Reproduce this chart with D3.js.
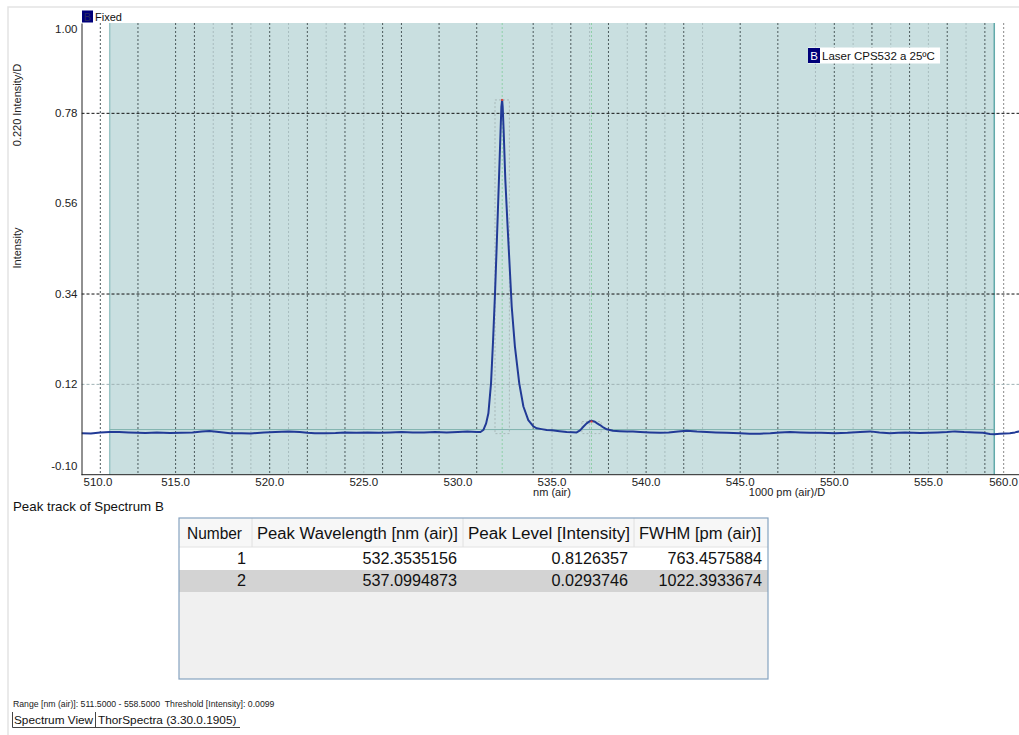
<!DOCTYPE html>
<html>
<head>
<meta charset="utf-8">
<script src="https://cdn.jsdelivr.net/npm/d3@7"></script>
<style>
  body { margin: 0; background: #fff; }
  svg { display: block; font-family: "Liberation Sans", Arial, sans-serif; }
</style>
</head>
<body>
<script>
(function(){
  var width = 1019;
  var height = 735;

  // spectrum B
  var wavelength = [510.0,510.5,511.0,511.5,512.0,512.5,513.0,513.4,514.0,514.7,515.3,515.9,516.4,516.8,517.3,517.9,518.5,519.0,519.7,520.3,521.0,521.6,522.0,522.4,523.0,523.5,524.0,524.6,525.2,525.8,526.4,527.0,527.6,528.2,528.8,529.4,530.0,530.5,531.0,531.2,531.35,531.5,531.62,531.76,531.87,531.97,532.06,532.15,532.24,532.31,532.35,532.38,532.43,532.52,532.65,532.77,532.86,533.03,533.26,533.48,533.74,534.0,534.19,534.45,534.72,535.0,535.4,535.78,536.1,536.31,536.49,536.65,536.84,537.0,537.1,537.28,537.4,537.55,537.7,537.91,538.24,538.6,538.97,539.3,539.68,540.2,540.74,541.2,541.7,542.16,542.7,543.22,543.7,544.28,544.99,545.5,546.05,546.6,547.1,547.65,548.2,548.71,549.3,550.04,550.7,551.37,551.9,552.4,552.96,553.4,553.76,554.2,554.55,555.0,555.5,556.0,556.41,556.9,557.47,557.9,558.27,558.5,558.8,559.33,559.6,559.81,560.0];
  var intensity = [0.001,0.0005,0.003,0.004,0.004,0.003,0.002,0.0015,0.0025,0.0015,0.002,0.003,0.005,0.0064,0.004,0.001,0.0008,0.0005,0.003,0.004,0.005,0.004,0.002,0.0008,0.001,0.0015,0.003,0.002,0.003,0.002,0.003,0.004,0.003,0.003,0.004,0.003,0.004,0.005,0.004,0.004,0.0088,0.025,0.0495,0.1225,0.228,0.339,0.455,0.577,0.699,0.796,0.8126,0.796,0.739,0.618,0.496,0.390,0.309,0.212,0.1225,0.066,0.033,0.018,0.013,0.011,0.009,0.008,0.006,0.004,0.0035,0.003,0.008,0.016,0.025,0.030,0.0315,0.029,0.025,0.021,0.016,0.0105,0.007,0.006,0.005,0.005,0.004,0.003,0.002,0.003,0.005,0.007,0.005,0.004,0.003,0.002,0.0008,0.0,-0.0002,0.001,0.003,0.004,0.003,0.002,0.002,0.001,0.002,0.004,0.0055,0.003,0.001,0.002,0.003,0.002,0.0015,0.002,0.003,0.004,0.0055,0.004,0.003,0.002,-0.001,-0.0012,-0.0002,0.0012,0.003,0.0055,0.006];

  var xTicks = [510, 515, 520, 525, 530, 535, 540, 545, 550, 555, 560];
  var yTicks = [-0.10, 0.12, 0.34, 0.56, 0.78, 1.00];
  var yGridDark = [0.78, 0.34];
  var yGridFaint = [0.12];
  var xGridDark = [511,513,515,516,518,520,522,524,526,527,529,531,534,536,538,540,542,545,547,550,552,554,556,558,559];
  var xGridFaint = [517,519,521,523,525,535,537,539,541,543,549,551,553,555,557];

  var rangeNm = [511.5, 558.5];
  var threshold = 0.0099;

  var peakNumber = [1, 2];
  var peakWavelength = ["532.3535156", "537.0994873"];
  var peakLevel = ["0.8126357", "0.0293746"];
  var peakFwhm = ["763.4575884", "1022.3933674"];
  var tableHeader = ["Number", "Peak Wavelength [nm (air)]", "Peak Level [Intensity]", "FWHM [pm (air)]"];

  var plotLeft = 81.5, plotTop = 23, plotBottom = 474.7;

  var x = d3.scaleLinear().domain([510, 560]).range([plotLeft, 1022.5]);
  var y = d3.scaleLinear().domain([-0.10, 1.00]).range([plotBottom, plotTop]);

  var svg = d3.select("body").append("svg")
    .attr("width", width)
    .attr("height", height);

  // window frame
  svg.append("path")
    .attr("d", "M8,735 V7 H1019")
    .attr("fill", "none")
    .attr("stroke", "#e3e3e3")
    .attr("stroke-width", 1.5);

  svg.append("clipPath").attr("id", "plotclip")
    .append("rect")
    .attr("x", plotLeft).attr("y", plotTop)
    .attr("width", width - plotLeft).attr("height", plotBottom - plotTop);

  var plot = svg.append("g").attr("clip-path", "url(#plotclip)");

  // measurement range shading
  plot.append("rect")
    .attr("x", x(rangeNm[0]))
    .attr("y", plotTop)
    .attr("width", x(rangeNm[1]) - x(rangeNm[0]))
    .attr("height", plotBottom - plotTop)
    .attr("fill", "#c9dfe0");

  plot.append("line")
    .attr("x1", x(rangeNm[0])).attr("x2", x(rangeNm[0]))
    .attr("y1", plotTop).attr("y2", plotBottom)
    .attr("stroke", "#9cc6c6").attr("stroke-width", 1.5);
  plot.append("line")
    .attr("x1", x(rangeNm[1])).attr("x2", x(rangeNm[1]))
    .attr("y1", plotTop).attr("y2", plotBottom)
    .attr("stroke", "#62aaaa").attr("stroke-width", 1.5);

  // vertical grid
  plot.selectAll(".vgf").data(xGridFaint).enter().append("line")
    .attr("x1", d => x(d)).attr("x2", d => x(d))
    .attr("y1", plotTop).attr("y2", plotBottom)
    .attr("stroke", "#a8bcbe").attr("stroke-dasharray", "2,2");
  plot.selectAll(".vgd").data(xGridDark).enter().append("line")
    .attr("x1", d => x(d)).attr("x2", d => x(d))
    .attr("y1", plotTop).attr("y2", plotBottom)
    .attr("stroke", d => d > rangeNm[1] ? "#8a8a8a" : "#4c5a5c")
    .attr("stroke-dasharray", "2,2");

  // horizontal grid
  plot.selectAll(".hgf").data(yGridFaint).enter().append("line")
    .attr("x1", plotLeft).attr("x2", width)
    .attr("y1", d => y(d)).attr("y2", d => y(d))
    .attr("stroke", "#9fb2b4").attr("stroke-dasharray", "3,2");
  plot.selectAll(".hgd").data(yGridDark).enter().append("line")
    .attr("x1", plotLeft).attr("x2", width)
    .attr("y1", d => y(d)).attr("y2", d => y(d))
    .attr("stroke", "#111").attr("stroke-dasharray", "3,2");

  // threshold line
  plot.append("line")
    .attr("x1", x(rangeNm[0])).attr("x2", x(rangeNm[1]))
    .attr("y1", y(threshold)).attr("y2", y(threshold))
    .attr("stroke", "#7fb3ae").attr("stroke-width", 1);

  // peak markers
  peakWavelength.forEach(function(w, i){
    var c = +w, half = +peakFwhm[i] / 2000, lvl = +peakLevel[i];
    plot.append("line")
      .attr("x1", x(c)).attr("x2", x(c))
      .attr("y1", plotTop).attr("y2", plotBottom)
      .attr("stroke", "#8fd0a8").attr("stroke-dasharray", "2,2");
    plot.append("rect")
      .attr("x", x(c - half)).attr("y", y(lvl))
      .attr("width", x(c + half) - x(c - half))
      .attr("height", y(0) - y(lvl))
      .attr("fill", "none")
      .attr("stroke", "#a9b9b9").attr("stroke-dasharray", "2,2");
  });

  // spectrum
  var line = d3.line()
    .x(d => x(d[0]))
    .y(d => y(d[1]));
  plot.append("path")
    .datum(d3.zip(wavelength, intensity))
    .attr("d", line)
    .attr("fill", "none")
    .attr("stroke", "#213a96")
    .attr("stroke-width", 2)
    .attr("stroke-linejoin", "round");

  peakWavelength.forEach(function(w, i){
    plot.append("rect")
      .attr("x", x(+w) - 1).attr("y", y(+peakLevel[i]) - 1)
      .attr("width", 2).attr("height", 2)
      .attr("fill", "#e0433a");
  });

  // axes
  var fmt2 = d => d3.format(".2f")(d).replace("\u2212", "-");
  var yAxis = svg.append("g")
    .attr("transform", "translate(" + plotLeft + ",0)")
    .call(d3.axisLeft(y).tickValues(yTicks).tickSize(0).tickPadding(4).tickFormat(fmt2));
  yAxis.select(".domain").attr("stroke", "#222");
  yAxis.selectAll(".tick").attr("transform", function(d){
    return "translate(0," + Math.min(Math.max(y(d), plotTop + 6), plotBottom - 8) + ")";
  });
  yAxis.selectAll("text").attr("font-size", 11.5).attr("fill", "#222")
    .attr("font-family", "Liberation Sans, Arial, sans-serif");

  var xAxis = svg.append("g")
    .attr("transform", "translate(0," + plotBottom + ")")
    .call(d3.axisBottom(x).tickValues(xTicks).tickSize(0).tickPadding(3).tickFormat(d3.format(".1f")));
  xAxis.select(".domain").attr("stroke", "#222").attr("d", "M" + plotLeft + ",0H" + width);
  xAxis.selectAll("text").attr("font-size", 11.5).attr("fill", "#222")
    .attr("font-family", "Liberation Sans, Arial, sans-serif");
  xAxis.selectAll(".tick").each(function(d){
    var t = d3.select(this).select("text");
    var w = t.node().getComputedTextLength();
    var cx = Math.min(Math.max(x(d), plotLeft + 2 + w / 2), width - 1 - w / 2);
    d3.select(this).attr("transform", "translate(" + cx + ",0)");
  });

  svg.append("text").attr("x", 552).attr("y", 496)
    .attr("text-anchor", "middle").attr("font-size", 11).attr("fill", "#222")
    .text("nm (air)");
  svg.append("text").attr("x", 787).attr("y", 496)
    .attr("text-anchor", "middle").attr("font-size", 11).attr("fill", "#222")
    .text("1000 pm (air)/D");

  svg.append("text")
    .attr("transform", "translate(21,105) rotate(-90)")
    .attr("text-anchor", "middle").attr("font-size", 11).attr("fill", "#222")
    .text("0.220 Intensity/D");
  svg.append("text")
    .attr("transform", "translate(21,248) rotate(-90)")
    .attr("text-anchor", "middle").attr("font-size", 11).attr("fill", "#222")
    .text("Intensity");

  // legends
  svg.append("rect").attr("x", 82).attr("y", 10.5).attr("width", 11).attr("height", 12).attr("fill", "#00007a");
  svg.append("text").attr("x", 87.5).attr("y", 20.5).attr("text-anchor", "middle")
    .attr("font-size", 11).attr("fill", "#2a2a60").text("B");
  svg.append("text").attr("x", 95).attr("y", 20.5)
    .attr("font-size", 11).attr("fill", "#111").text("Fixed");

  svg.append("rect").attr("x", 808).attr("y", 47.5).attr("width", 132).attr("height", 16).attr("fill", "#fff");
  svg.append("rect").attr("x", 808).attr("y", 48).attr("width", 12).attr("height", 15).attr("fill", "#00007a");
  svg.append("text").attr("x", 814).attr("y", 60).attr("text-anchor", "middle")
    .attr("font-size", 11.5).attr("fill", "#fff").text("B");
  svg.append("text").attr("x", 822).attr("y", 60)
    .attr("font-size", 11.5).attr("fill", "#111").text("Laser CPS532 a 25ºC");

  // peak table
  svg.append("text").attr("x", 13).attr("y", 511)
    .attr("font-size", 13.3).attr("fill", "#111").text("Peak track of Spectrum B");

  var colX = [179, 252, 463, 634, 768];
  var tbl = svg.append("g");
  tbl.append("rect").attr("x", 179).attr("y", 518).attr("width", 589).attr("height", 161)
    .attr("fill", "#f0f0f0");
  tbl.append("rect").attr("x", 179).attr("y", 518).attr("width", 589).attr("height", 29)
    .attr("fill", "#f7f7f7");
  tbl.append("rect").attr("x", 179).attr("y", 547).attr("width", 589).attr("height", 23)
    .attr("fill", "#fff");
  tbl.append("rect").attr("x", 179).attr("y", 570).attr("width", 589).attr("height", 22)
    .attr("fill", "#d3d3d3");
  tbl.append("line").attr("x1", 179).attr("x2", 768).attr("y1", 547).attr("y2", 547)
    .attr("stroke", "#e2e2e2");
  tbl.selectAll(".sep").data(colX.slice(1, 4)).enter().append("line")
    .attr("x1", d => d).attr("x2", d => d).attr("y1", 518).attr("y2", 547)
    .attr("stroke", "#e0e0e0");
  tbl.append("rect").attr("x", 179).attr("y", 518).attr("width", 589).attr("height", 161)
    .attr("fill", "none").attr("stroke", "#86a3c0").attr("stroke-width", 1.2);

  tbl.selectAll(".hdr").data(tableHeader).enter().append("text")
    .attr("x", (d, i) => colX[i] + (i ? 5 : 8)).attr("y", 539)
    .attr("font-size", 16).attr("fill", "#111")
    .attr("textLength", (d, i) => [55, 201, 162, 122][i])
    .attr("lengthAdjust", "spacingAndGlyphs")
    .text(d => d);

  var rows = d3.range(peakNumber.length).map(i => [peakNumber[i], peakWavelength[i], peakLevel[i], peakFwhm[i]]);
  rows.forEach(function(r, ri){
    tbl.selectAll(".row" + ri).data(r).enter().append("text")
      .attr("x", (d, i) => colX[i + 1] - 6)
      .attr("y", 564 + ri * 22)
      .attr("text-anchor", "end")
      .attr("font-size", 16.2).attr("fill", "#111").text(d => d);
  });

  // status text
  svg.append("text").attr("x", 13).attr("y", 707)
    .attr("font-size", 8.7).attr("fill", "#222")
    .style("white-space", "pre")
    .text("Range [nm (air)]: 511.5000 - 558.5000  Threshold [Intensity]: 0.0099");
  svg.append("path").attr("d", "M12.5,712 V727.5 H240 M95.5,712 V727.5")
    .attr("fill", "none").attr("stroke", "#444");
  svg.append("text").attr("x", 14).attr("y", 724)
    .attr("font-size", 11.8).attr("fill", "#111").text("Spectrum View");
  svg.append("text").attr("x", 98).attr("y", 724)
    .attr("font-size", 11.8).attr("fill", "#111").text("ThorSpectra (3.30.0.1905)");
})();
</script>
</body>
</html>
